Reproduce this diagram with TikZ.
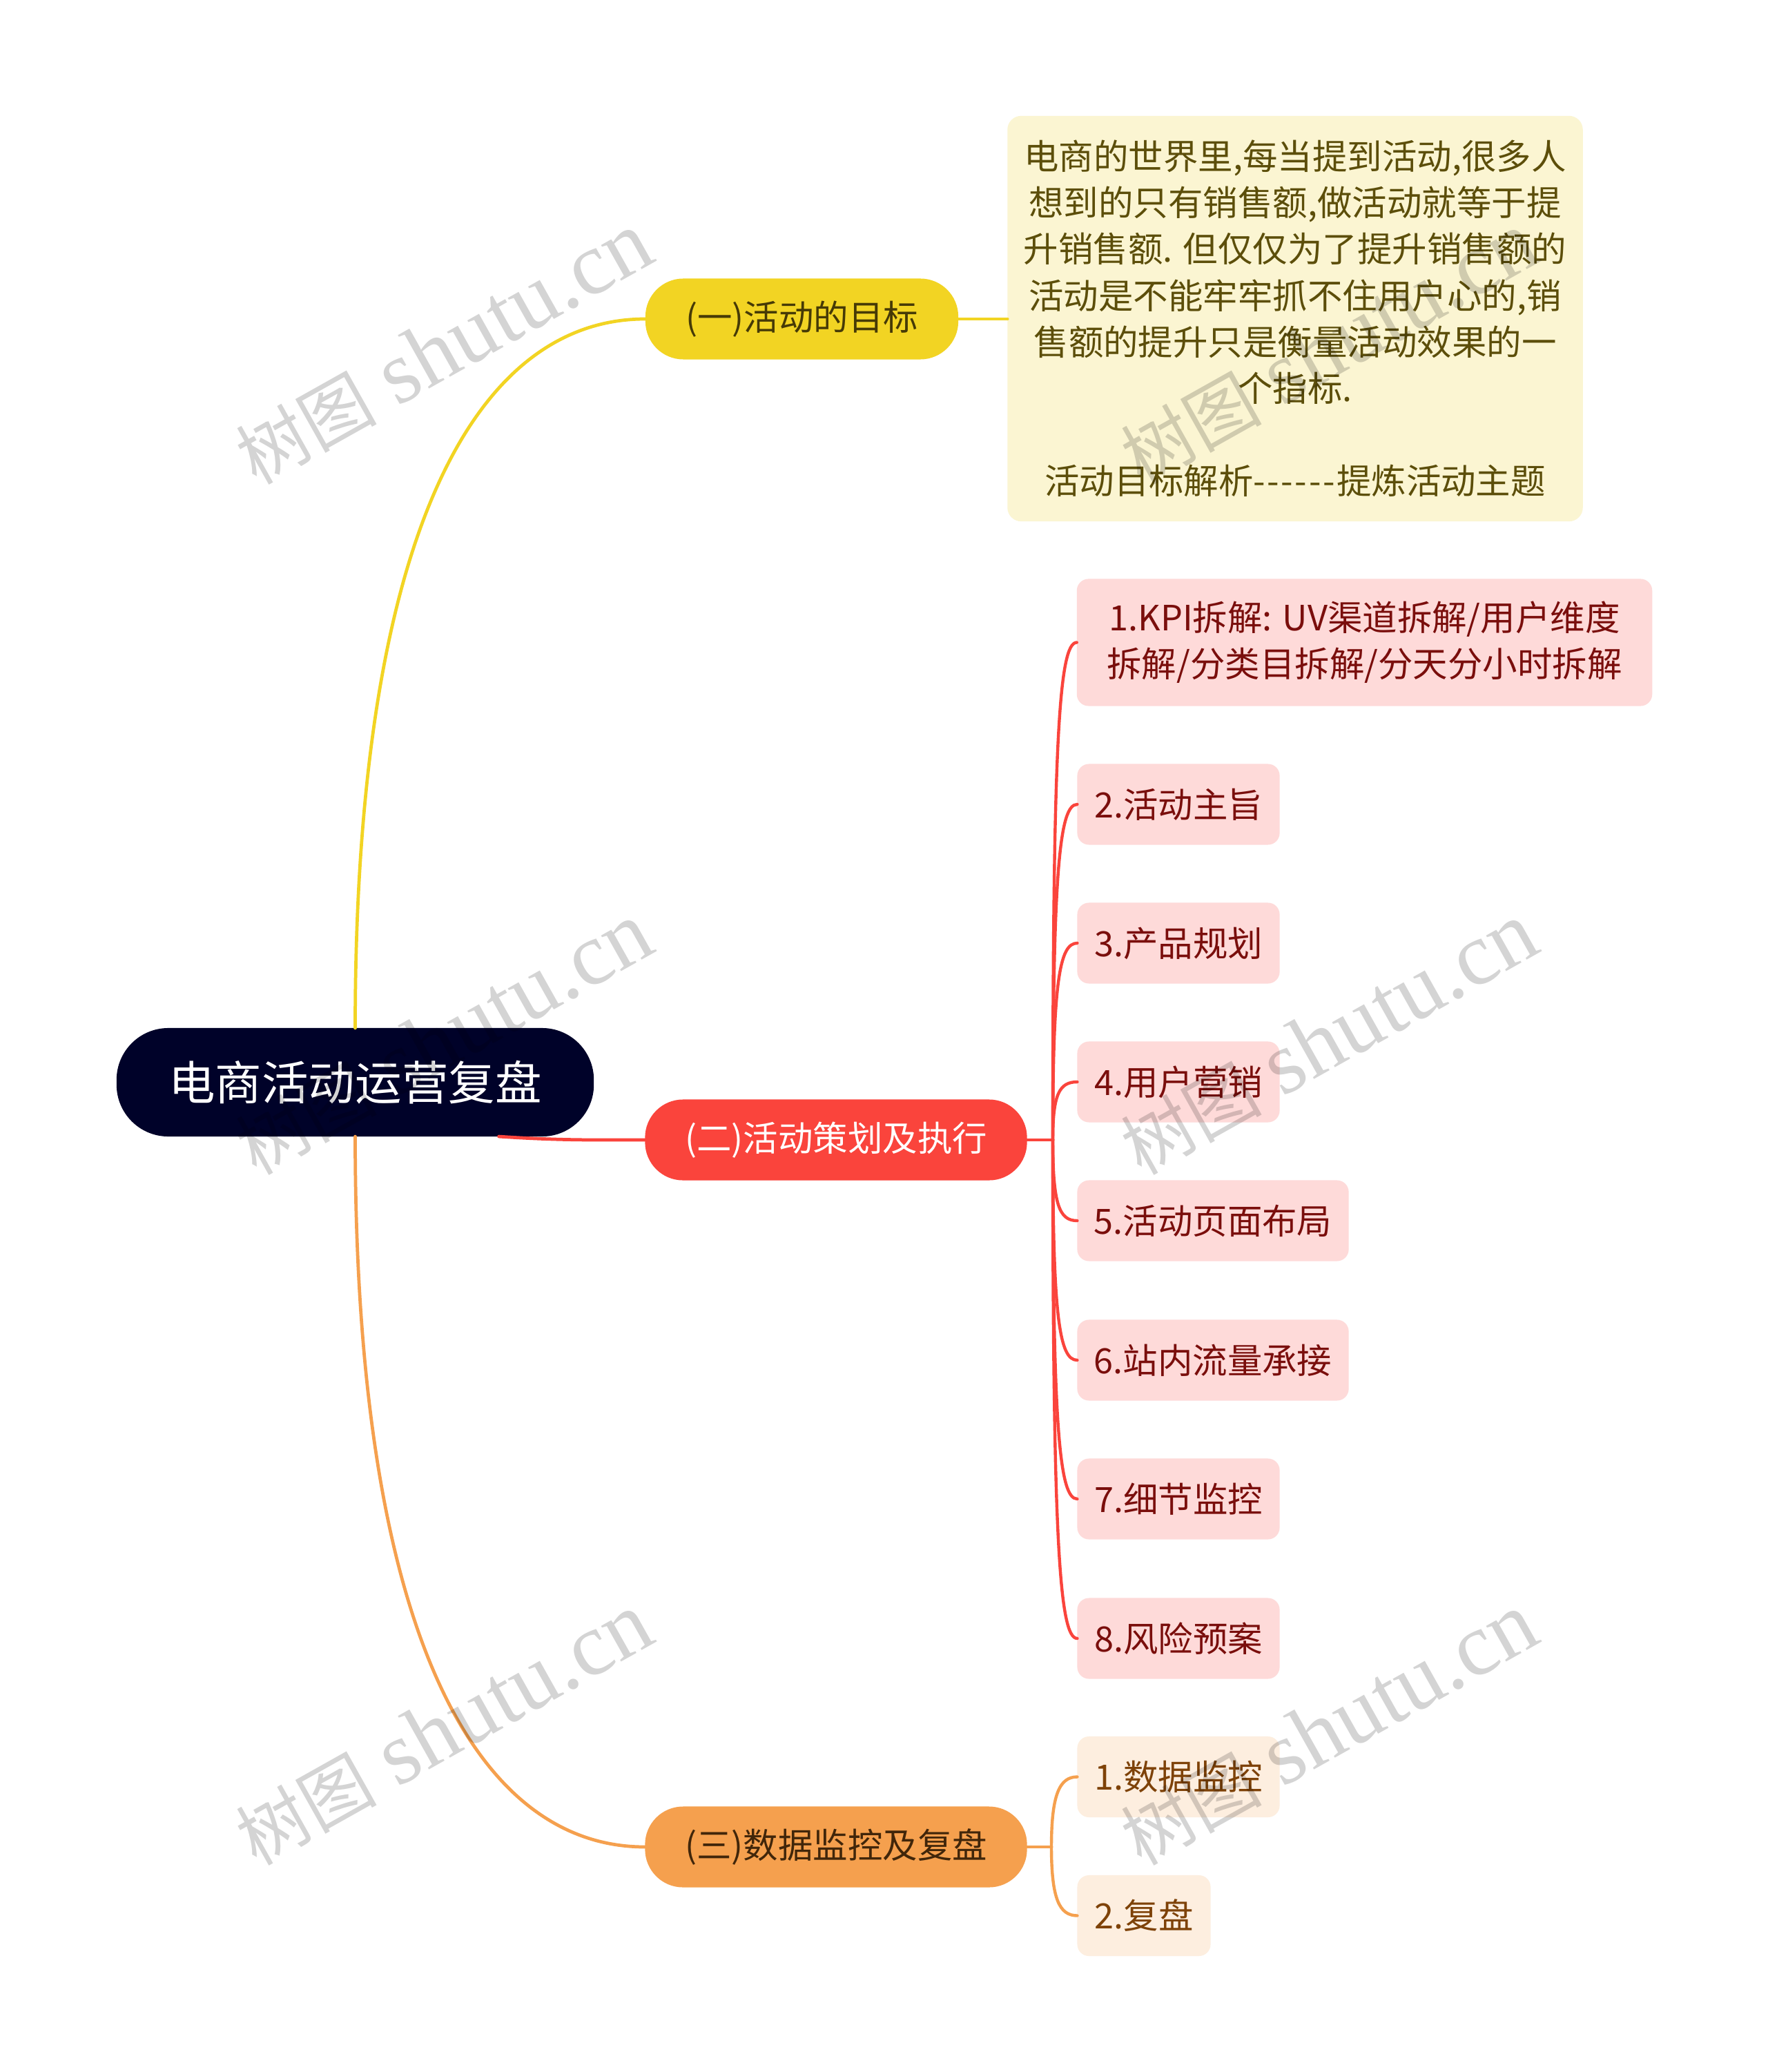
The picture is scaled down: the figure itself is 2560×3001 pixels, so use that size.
\documentclass[tikz,border=0pt]{standalone}
\usepackage{fontspec}
\setmainfont{Noto Sans CJK SC}
\newfontfamily\wmlatin{Liberation Serif}
\usetikzlibrary{calc}
\definecolor{rootfill}{HTML}{000229}
\definecolor{yelmain}{HTML}{F2D423}
\definecolor{yelsoft}{HTML}{FBF5D2}
\definecolor{yeltext}{HTML}{5C4E0A}
\definecolor{yeldark}{HTML}{463A06}
\definecolor{redmain}{HTML}{FA443C}
\definecolor{redsoft}{HTML}{FEDAD9}
\definecolor{redtext}{HTML}{7A0E0C}
\definecolor{ormain}{HTML}{F5A04E}
\definecolor{orsoft}{HTML}{FDEEDF}
\definecolor{ortext}{HTML}{7E4208}
\definecolor{ordark}{HTML}{41260A}
\tikzset{
  x=0.01cm,y=-0.01cm,
  box/.style={inner sep=0pt,outer sep=0pt,align=center,font=\fontsize{14.35}{19.1}\selectfont},
  rootbox/.style={box,fill=rootfill,text=white,rounded corners=0.75cm,minimum width=6.91cm,minimum height=1.57cm,font=\fontsize{19.2}{24}\selectfont},
  branch/.style={box,rounded corners=0.55cm,minimum height=1.17cm},
  leafred/.style={box,fill=redsoft,text=redtext,rounded corners=0.17cm,minimum height=1.17cm},
  leafor/.style={box,fill=orsoft,text=ortext,rounded corners=0.17cm,minimum height=1.17cm},
  link/.style={line width=1.35pt,line cap=round},
  sublink/.style={line width=1.25pt,line cap=round},
  wm/.style={rotate=29.3,text=black,text opacity=0.17,inner sep=0pt,font=\fontsize{29}{36}\selectfont},
}
\newcommand{\wmark}{树图\hspace{0.3cm}{\wmlatin\fontsize{36.7}{40}\selectfont shutu.cn}}
\begin{document}
\begin{tikzpicture}
\fill[white] (0,0) rectangle (2560,3001);
\useasboundingbox (0,0) rectangle (2560,3001);
% nodes
\node[rootbox] (root) at (514.5,1567.5) {电商活动运营复盘};
\node[branch,fill=yelmain,text=yeldark,minimum width=4.53cm] (b1) at (1161.5,462) {(一)活动的目标};
\node[branch,fill=redmain,text=white,minimum width=5.53cm] (b2) at (1211,1651) {(二)活动策划及执行};
\node[branch,fill=ormain,text=ordark,minimum width=5.53cm] (b3) at (1211,2675) {(三)数据监控及复盘};
\node[box,fill=yelsoft,text=yeltext,rounded corners=0.2cm,minimum width=8.33cm,minimum height=5.87cm] (desc) at (1876,461.5)
 {电商的世界里,每当提到活动,很多人\\想到的只有销售额,做活动就等于提\\升销售额. 但仅仅为了提升销售额的\\活动是不能牢牢抓不住用户心的,销\\售额的提升只是衡量活动效果的一\\个指标.\\ \strut\\活动目标解析-\kern0.05em-\kern0.05em-\kern0.05em-\kern0.05em-\kern0.05em-\kern0.05em提炼活动主题};
\node[leafred,minimum width=8.33cm,minimum height=1.84cm] (r1) at (1976.5,930.5) {1.KPI拆解: UV渠道拆解/用户维度\\拆解/分类目拆解/分天分小时拆解};
\node[leafred,minimum width=2.93cm] (r2) at (1707,1165) {2.活动主旨};
\node[leafred,minimum width=2.93cm] (r3) at (1707,1366) {3.产品规划};
\node[leafred,minimum width=2.93cm] (r4) at (1707,1567) {4.用户营销};
\node[leafred,minimum width=3.93cm] (r5) at (1757,1768) {5.活动页面布局};
\node[leafred,minimum width=3.93cm] (r6) at (1757,1970) {6.站内流量承接};
\node[leafred,minimum width=2.93cm] (r7) at (1707,2171) {7.细节监控};
\node[leafred,minimum width=2.93cm] (r8) at (1707,2373) {8.风险预案};
\node[leafor,minimum width=2.93cm] (o1) at (1707,2573.5) {1.数据监控};
\node[leafor,minimum width=1.93cm] (o2) at (1657,2774.5) {2.复盘};
\coordinate (j2) at (1525,1651);
\coordinate (j3) at (1523,2675);
% connectors
\draw[link,yelmain] (root.north) .. controls +(0,-740) and +(-236,0) .. (b1.west);
\draw[link,yelmain] (b1.east) -- (desc.west |- b1.east);
\draw[link,redmain] ([xshift=2.08cm]root.south) .. controls +(90,6) and +(-70,0) .. (b2.west);
\draw[link,ormain] (root.south) .. controls +(0,740) and +(-236,0) .. (b3.west);
\draw[link,redmain] (b2.east) -- (j2);
\foreach \n/\d in {r1/-576,r2/-389,r3/-228,r4/-66,r5/94,r6/256,r7/417,r8/579}{
  \draw[sublink,redmain] (j2) .. controls +(0,\d) and +(-26,0) .. (\n.west);
}
\draw[link,ormain] (b3.east) -- (j3);
\foreach \n/\d in {o1/-75,o2/75}{
  \draw[sublink,ormain] (j3) .. controls +(0,\d) and +(-26,0) .. (\n.west);
}
% watermarks
\node[wm] (w1) at (643,505) {\wmark};
\node[wm] (w2) at (1925,505) {\wmark};
\node[wm] (w3) at (643,1505) {\wmark};
\node[wm] (w4) at (1925,1505) {\wmark};
\node[wm] (w5) at (643,2505) {\wmark};
\node[wm] (w6) at (1925,2505) {\wmark};
\end{tikzpicture}
\end{document}
